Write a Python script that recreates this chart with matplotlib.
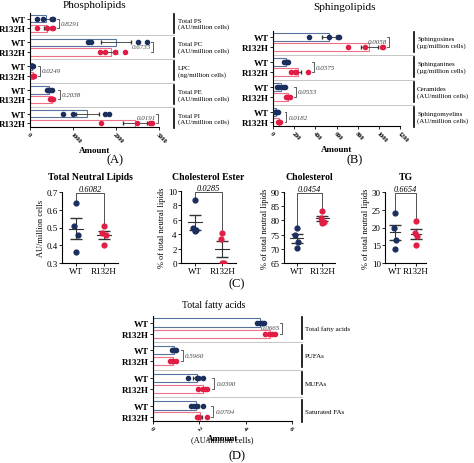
import numpy as np
import matplotlib.pyplot as plt

plt.rcParams['font.family'] = ['Liberation Serif', 'DejaVu Serif']

NAVY = '#1b2f5e'
RED = '#e01d45'
BLUE_EDGE = '#5a739e'
PINK_EDGE = '#f0708a'

# Panel A: phospholipids
a_groups = ['Total PS\n(AU/million cells)', 'Total PC\n(AU/million cells)', 'LPC\n(ng/million cells)',
            'Total PE\n(AU/million cells)', 'Total PI\n(AU/million cells)']
a_wt = [[155, 295, 504, 527], [1356, 1410, 2519, 2713], [45, 50, 55, 60],
        [390, 430, 470, 500], [760, 992, 1744, 1845]]
a_mut = [[170, 388, 504, 527], [1628, 1744, 1976, 2209], [65, 70, 80, 85],
         [465, 490, 520, 540], [1643, 2480, 2800, 2829]]
a_p = ['0.8291', '0.6733', '0.0249', '0.2038', '0.0191']

# Panel B: sphingolipids
b_groups = ['Sphingosines\n(µg/million cells)', 'Sphinganines\n(µg/million cells)',
            'Ceramides\n(AU/million cells)', 'Sphingomyelins\n(AU/million cells)']
b_wt = [[343, 533, 612, 624], [104, 120, 130, 144], [37, 61, 92, 113], [21, 30, 36, 43]]
b_mut = [[704, 869, 1031, 1037], [174, 205, 220, 327], [122, 135, 145, 159], [45, 52, 60, 67]]
b_p = ['0.0058', '0.0375', '0.0553', '0.0182']

# Panel C: neutral lipids
c_titles = ['Total Neutral Lipids', 'Cholesterol Ester', 'Cholesterol', 'TG']
c_ylabels = ['AU/million cells', '% of total neutral lipids', '% of total neutral lipids', '% of total neutral lipids']
c_wt = [[0.36, 0.46, 0.51, 0.64], [4.5, 4.6, 4.8, 8.8], [70.2, 72.5, 74.7, 77.2], [14, 16.5, 20, 24]]
c_mut = [[0.40, 0.46, 0.47, 0.51], [0, 0, 3.4, 4.2], [79, 79.5, 81, 83.2], [15, 17.5, 18.5, 21.8]]
c_p = ['0.6082', '0.0285', '0.0454', '0.6654']
c_ylim = [(0.3, 0.7), (0, 10), (65, 90), (10, 30)]
c_yticks = [[0.3, 0.4, 0.5, 0.6, 0.7], [0, 2, 4, 6, 8, 10], [65, 70, 75, 80, 85, 90], [10, 15, 20, 25, 30]]

# Panel D: fatty acids
d_groups = ['Total fatty acids', 'PUFAs', 'MUFAs', 'Saturated FAs']
d_wt = [[4.48, 4.6, 4.7, 4.77], [0.8, 0.88, 0.95, 1.0], [1.52, 1.88, 1.95, 2.17], [1.66, 1.75, 1.88, 2.17]]
d_mut = [[4.84, 4.99, 5.13, 5.28], [0.72, 0.8, 0.88, 1.0], [1.95, 2.17, 2.24, 2.34], [1.9, 1.95, 2.0, 2.31]]
d_p = ['0.0665', '0.5960', '0.0390', '0.0704']

fig = plt.figure(figsize=(4.74, 4.64), dpi=100)


def px(l, t, r, b):
    return [l / 474, 1 - b / 464, (r - l) / 474, (b - t) / 464]


def sem(v):
    v = np.asarray(v)
    return v.std(ddof=1) / np.sqrt(len(v))


def hpanel(rect, title, groups, wt, mut, pvals, xmax, xticks, label_x, xlabel):
    ax = fig.add_axes(px(*rect))
    n = len(groups)
    yl, ylab = [], []
    span = xmax
    for i in range(n):
        yw, ym = i * 2.5, i * 2.5 + 1
        for y, vals, col, ec in [(yw, wt[i], NAVY, BLUE_EDGE), (ym, mut[i], RED, PINK_EDGE)]:
            m = np.mean(vals)
            ax.barh(y, m, height=0.75, color='white', edgecolor=ec, linewidth=0.8)
            ax.errorbar(m, y, xerr=sem(vals), color='#333333', lw=0.6, capsize=1.5)
            ax.scatter(vals, [y] * len(vals), s=9, color=col, zorder=3)
        yl += [yw, ym]
        ylab += ['WT', 'R132H']
        xb = max(max(wt[i]), max(mut[i])) + span * 0.05
        d = span * 0.015
        ax.plot([xb - d, xb, xb, xb - d], [yw, yw, ym, ym], color='#444444', lw=0.6)
        if xb > span * 0.85:
            ax.text(xb - d, yw + 0.45, pvals[i], fontsize=5, style='italic', color='#444444',
                    va='center', ha='right')
        else:
            ax.text(xb + d, (yw + ym) / 2, pvals[i], fontsize=5, style='italic', color='#444444', va='center')
        if i < n - 1:
            ax.plot([0, label_x], [ym + 0.75] * 2, color='#bbbbbb', lw=0.6,
                    transform=ax.get_yaxis_transform(), clip_on=False)
        ax.plot([label_x, label_x], [yw - 0.5, ym + 0.5], color='black', lw=1.2,
                transform=ax.get_yaxis_transform(), clip_on=False)
        ax.text(label_x + 0.025, (yw + ym) / 2, groups[i], fontsize=5, va='center',
                transform=ax.get_yaxis_transform())
    ax.set_yticks(yl)
    ax.set_yticklabels(ylab, fontsize=6.5, fontweight='bold')
    ax.set_ylim(n * 2.5 - 1.1, -0.6)
    ax.set_xlim(0, xmax)
    ax.set_xticks(xticks)
    ax.set_xticklabels([str(t) for t in xticks], rotation=-45, fontsize=4.5, fontweight='bold',
                       ha='left', rotation_mode='anchor')
    ax.set_xlabel(xlabel, fontsize=6.5, fontweight='bold', labelpad=2)
    ax.set_title(title, fontsize=8, pad=4)
    for s in ['top', 'right']:
        ax.spines[s].set_visible(False)
    ax.tick_params(length=2, width=0.6, pad=1)
    return ax


hpanel((30, 14, 159, 128), 'Phospholipids', a_groups, a_wt, a_mut, a_p, 3000, [0, 1000, 2000, 3000], 1.12, 'Amount')
hpanel((273, 32, 400, 127), '', b_groups, b_wt, b_mut, b_p, 1200, [0, 200, 400, 600, 800, 1000, 1200], 1.11, 'Amount')
fig.text(344 / 474, 1 - 8 / 464, 'Sphingolipids', fontsize=8, ha='center', va='center')
hpanel((153, 317, 292, 422), '', d_groups, d_wt, d_mut, d_p, 6, [0, 2, 4, 6], 1.07, 'Amount')
fig.text(222 / 474, 1 - 440 / 464, '(AU/million cells)', fontsize=6, ha='center', va='center')
fig.text(214 / 474, 1 - 305 / 464, 'Total fatty acids', fontsize=7, ha='center', va='center')

c_rects = [(62, 193, 118, 264), (181, 192, 236, 264), (284, 193, 335, 264), (385, 193, 426, 264)]
for k in range(4):
    ax = fig.add_axes(px(*c_rects[k]))
    for x0, vals, col in [(0, c_wt[k], NAVY), (1, c_mut[k], RED)]:
        v = np.sort(vals)
        xs = x0 + np.array([0.0, 0.06, -0.06, 0.0])
        ax.scatter(xs, v, s=12, color=col, zorder=3)
        m, e = np.mean(v), sem(v)
        ax.plot([x0 - 0.25, x0 + 0.25], [m, m], color='#333333', lw=0.8)
        ax.errorbar(x0, m, yerr=e, color='#333333', lw=0.8, capsize=4)
    lo, hi = c_ylim[k]
    top = hi - (hi - lo) * 0.02
    ax.plot([0, 0, 1, 1], [max(c_wt[k]) + (hi - lo) * 0.04, top, top, max(c_mut[k]) + (hi - lo) * 0.04],
            color='#333333', lw=0.6)
    ax.text(0.5, top + (hi - lo) * 0.01, c_p[k], ha='center', va='bottom', fontsize=6, style='italic')
    ax.set_ylim(lo, hi)
    ax.set_yticks(c_yticks[k])
    ax.set_xlim(-0.5, 1.5)
    ax.set_xticks([0, 1])
    ax.set_xticklabels(['WT', 'R132H'], fontsize=7)
    ax.tick_params(labelsize=6.5, length=2, width=0.6, pad=1)
    ax.set_ylabel(c_ylabels[k], fontsize=6, labelpad=1)
    ax.set_title(c_titles[k], fontsize=7, fontweight='bold', pad=9)
    for s in ['top', 'right']:
        ax.spines[s].set_visible(False)

for lab, x, y in [('(A)', 115, 160), ('(B)', 355, 160), ('(C)', 237, 284), ('(D)', 237, 456)]:
    fig.text(x / 474, 1 - y / 464, lab, fontsize=9, ha='center', va='center')

fig.savefig('out.png', dpi=100)
